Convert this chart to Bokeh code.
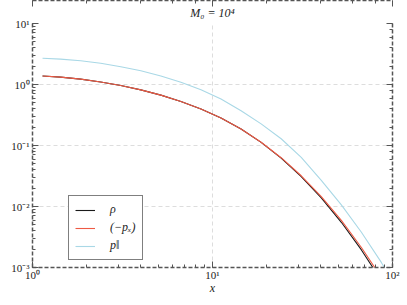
from bokeh.plotting import figure
from bokeh.models import (LogAxis, Legend, LegendItem, Title, CustomJSTickFormatter,
                          Range1d)
from bokeh.embed import file_html
from bokeh.resources import INLINE

# ---- data ----
x_vals = [1.137, 1.432, 1.851, 2.392, 3.093, 3.998, 5.166, 6.676, 8.629, 11.15,
          14.41, 18.63, 24.07, 31.12, 40.22, 51.98, 67.19, 86.85, 105.3]

rho = [1.380, 1.319, 1.224, 1.102, 0.963, 0.817, 0.670, 0.527, 0.3967, 0.2821,
       0.1862, 0.1126, 0.0622, 0.0309, 0.01382, 0.00551, 0.00194, 0.000605, 0.000237]

minus_px = [1.380, 1.319, 1.224, 1.102, 0.963, 0.817, 0.670, 0.527, 0.3967, 0.2821,
            0.1862, 0.1132, 0.0631, 0.0319, 0.01455, 0.00592, 0.00213, 0.000680, 0.000269]

p_par = [2.70, 2.61, 2.45, 2.23, 1.96, 1.68, 1.38, 1.086, 0.817, 0.578,
         0.372, 0.226, 0.129, 0.0638, 0.0269, 0.01066, 0.00379, 0.00120, 0.00047]

title_text = "M\u2080 = 10\u2074"
x_label = "x"
labels = ["\u03c1", "(\u2212p\u2093)", "p\u2016"]
colors = ["#1a1a1a", "#ee5a44", "#a9d8e6"]

FONT = "Liberation Serif"

sup_fmt = CustomJSTickFormatter(code="""
const sup = {'0':'\u2070','1':'\u00b9','2':'\u00b2','3':'\u00b3','4':'\u2074','5':'\u2075','6':'\u2076','7':'\u2077','8':'\u2078','9':'\u2079','-':'\u207b'};
const e = Math.round(Math.log10(tick));
return '10' + String(e).split('').map(c => sup[c]).join('');
""")
blank_fmt = CustomJSTickFormatter(code="return '';")

p = figure(width=400, height=297, x_axis_type="log", y_axis_type="log",
           x_range=Range1d(1, 100), y_range=Range1d(0.001, 10),
           output_backend="svg", toolbar_location=None,
           min_border_left=32, min_border_right=8, min_border_top=2, min_border_bottom=4)
p.background_fill_color = "white"
p.outline_line_color = None

p.add_layout(Title(text=title_text, align="center", text_font=FONT, text_font_size="12px",
                   text_font_style="italic", text_color="#222", standoff=7), "above")

renderers = []
for ys, c in [(rho, colors[0]), (minus_px, colors[1]), (p_par, colors[2])]:
    r = p.line(x_vals, ys, line_color=c, line_width=1.1)
    renderers.append(r)

def style_axis(ax, show):
    ax.axis_line_color = "#555555"
    ax.axis_line_width = 1.5
    ax.axis_line_dash = "4 2"
    ax.major_tick_in = 6
    ax.major_tick_out = 0
    ax.minor_tick_in = 3
    ax.minor_tick_out = 0
    ax.major_tick_line_color = "#555555"
    ax.minor_tick_line_color = "#555555"
    ax.major_label_text_font = FONT
    ax.major_label_text_font_size = "11px"
    ax.major_label_text_color = "#222222"
    ax.major_label_standoff = 1
    if not show:
        ax.formatter = blank_fmt
        ax.major_label_text_font_size = "1px"
    else:
        ax.formatter = sup_fmt

style_axis(p.xaxis[0], True)
style_axis(p.yaxis[0], True)
p.yaxis[0].major_label_standoff = 3
p.xaxis[0].axis_label = x_label
p.xaxis[0].axis_label_text_font = FONT
p.xaxis[0].axis_label_text_font_style = "italic"
p.xaxis[0].axis_label_text_font_size = "12px"
p.xaxis[0].axis_label_standoff = -3
p.xaxis[0].axis_label_text_color = "#222222"

top = LogAxis()
right = LogAxis()
style_axis(top, False)
style_axis(right, False)
p.add_layout(top, "above")
p.add_layout(right, "right")

p.xgrid.grid_line_color = "#dddddd"
p.ygrid.grid_line_color = "#dddddd"
p.xgrid.grid_line_dash = "4 3"
p.ygrid.grid_line_dash = "4 3"

legend = Legend(items=[LegendItem(label=l, renderers=[r]) for l, r in zip(labels, renderers)],
                location=(36, 7), border_line_color="black", border_line_width=1,
                background_fill_color="white", background_fill_alpha=1,
                label_text_font=FONT, label_text_font_size="12px", label_text_font_style="italic",
                glyph_width=20, glyph_height=14, label_height=14, label_standoff=15,
                padding=6, spacing=3, margin=0)
legend.label_text_color = "#222222"
p.add_layout(legend, "center")

open("out.html", "w").write(file_html(p, INLINE))
